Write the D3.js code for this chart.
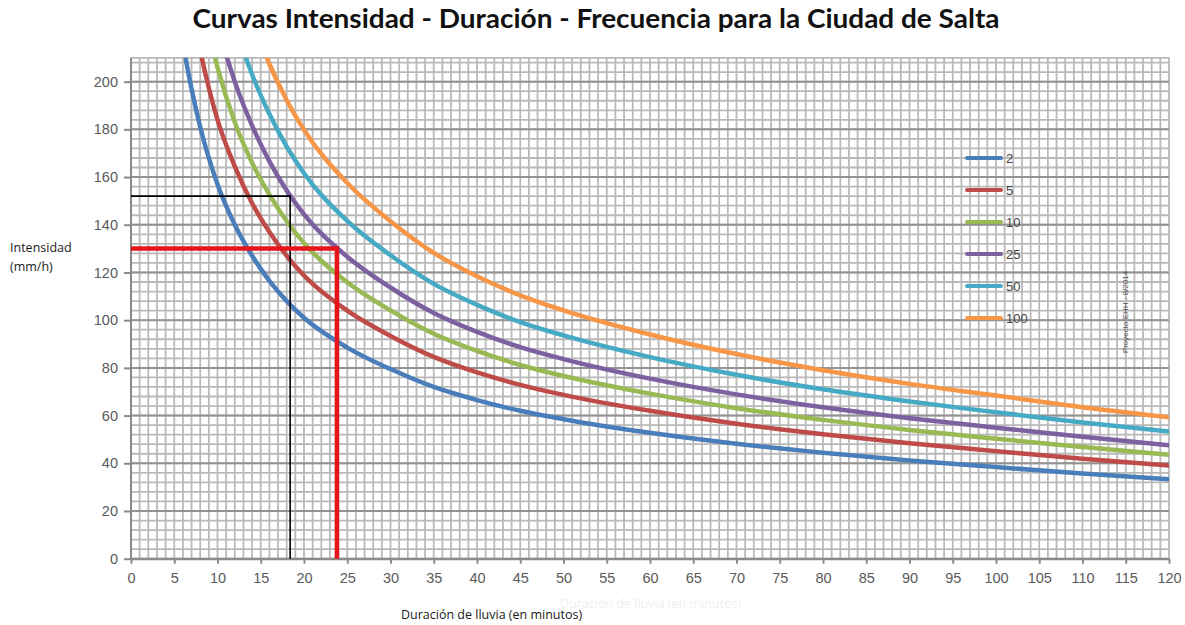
<!DOCTYPE html>
<html>
<head>
<meta charset="utf-8">
<script src="https://cdn.jsdelivr.net/npm/d3@7"></script>
<style>
  body { margin: 0; background: #fff; }
  svg { display: block; }
</style>
</head>
<body>
<svg id="chart" width="1185" height="625"></svg>
<script>
// Rainfall duration (minutes) at which intensities are tabulated
const durations = [5, 6, 7, 8, 10, 12, 14, 16, 18, 20, 25, 30, 35, 40, 45, 50, 60, 70, 80, 90, 100, 110, 120];

// Return periods (years)
const returnPeriods = ["2", "5", "10", "25", "50", "100"];

// Intensity (mm/h) for each return period
const intensityT2   = [248, 217, 197, 181, 157, 140, 127, 116.5, 108, 101, 88.5, 79.5, 72, 66.5, 62, 58.5, 52.8, 48.2, 44.4, 41.2, 38.4, 35.7, 33.3];
const intensityT5   = [291, 255, 231, 213, 184, 164.5, 149, 137, 127, 118.7, 104, 93.4, 84.6, 78.1, 72.9, 68.7, 62, 56.6, 52.2, 48.4, 45.1, 41.9, 39.1];
const intensityT10  = [325, 284, 258, 237, 206, 183, 166, 152.6, 141.5, 132.3, 115.9, 104.1, 94.3, 87.1, 81.2, 76.6, 69.2, 63.1, 58.2, 54, 50.3, 46.8, 43.6];
const intensityT25  = [355, 310, 282, 259, 224.5, 200, 181.6, 166.6, 154.4, 144.4, 126.6, 113.7, 103, 95.1, 88.7, 83.7, 75.5, 68.9, 63.5, 58.9, 54.9, 51.1, 47.6];
const intensityT50  = [397, 347, 315, 290, 251, 224, 203, 186.4, 172.8, 161.6, 141.6, 127.2, 115.2, 106.4, 99.2, 93.6, 84.5, 77.1, 71, 65.9, 61.4, 57.1, 53.3];
const intensityT100 = [441, 386, 351, 322, 279, 249, 226, 207.4, 192.2, 179.8, 157.5, 141.5, 128.2, 118.4, 110.4, 104.1, 94, 85.8, 79, 73.3, 68.4, 63.5, 59.3];

const seriesValues = [intensityT2, intensityT5, intensityT10, intensityT25, intensityT50, intensityT100];
const seriesColors = ["#4a7ebb", "#be4b48", "#98b954", "#7d60a0", "#46aac5", "#f79646"];

// Axis ticks
const xTicks = d3.range(0, 121, 5);
const yTicks = d3.range(0, 201, 20);

// Reading guides: [duration, intensity]
const guideBlack = [18.4, 152];
const guideRed = [23.8, 130];

const svg = d3.select("#chart");

const x = d3.scaleLinear().domain([0, 120]).range([131, 1169]);
const y = d3.scaleLinear().domain([0, 210]).range([558.7, 57.8]);

// Title
svg.append("text")
  .attr("x", 596).attr("y", 28)
  .attr("text-anchor", "middle")
  .attr("font-family", "Lato, 'Open Sans', sans-serif")
  .attr("font-weight", "bold")
  .attr("font-size", 27)
  .attr("fill", "#111")
  .attr("textLength", 807)
  .attr("lengthAdjust", "spacingAndGlyphs")
  .text("Curvas Intensidad - Duración - Frecuencia para la Ciudad de Salta");

// Clip region for the plot area
svg.append("defs").append("clipPath").attr("id", "plotClip")
  .append("rect")
  .attr("x", x(0)).attr("y", y(210))
  .attr("width", x(120) - x(0)).attr("height", y(0) - y(210));

// Grid
const grid = svg.append("g");
grid.selectAll("line.vminor")
  .data(d3.range(0, 121, 1))
  .join("line")
  .attr("x1", d => x(d)).attr("x2", d => x(d))
  .attr("y1", y(210)).attr("y2", y(0))
  .attr("stroke", "#b9b9b9").attr("stroke-width", 1.8);
grid.selectAll("line.hminor")
  .data(d3.range(0, 211, 4).concat([210]))
  .join("line")
  .attr("x1", x(0)).attr("x2", x(120))
  .attr("y1", d => y(d)).attr("y2", d => y(d))
  .attr("stroke", "#b9b9b9").attr("stroke-width", 1.8);
grid.selectAll("line.hmajor")
  .data(yTicks)
  .join("line")
  .attr("x1", x(0)).attr("x2", x(120))
  .attr("y1", d => y(d)).attr("y2", d => y(d))
  .attr("stroke", "#939393").attr("stroke-width", 2);

// Axes
const tickFont = "'Liberation Sans', Arial, sans-serif";
const yAxis = svg.append("g")
  .attr("transform", `translate(${x(0)},0)`)
  .call(d3.axisLeft(y).tickValues(yTicks).tickSize(7).tickPadding(6).tickSizeOuter(0));
const xAxis = svg.append("g")
  .attr("transform", `translate(0,${y(0)})`)
  .call(d3.axisBottom(x).tickValues(xTicks).tickSize(5).tickPadding(9).tickSizeOuter(0));
[yAxis, xAxis].forEach(ax => {
  ax.select(".domain").attr("stroke", "#8a8a8a").attr("stroke-width", 2);
  ax.selectAll(".tick line").attr("stroke", "#8a8a8a").attr("stroke-width", 2);
  ax.selectAll(".tick text")
    .attr("font-family", tickFont)
    .attr("font-size", 14.5)
    .attr("fill", "#5a5a5a");
});
yAxis.select(".domain").attr("d", `M0,${y(210)}V${y(0)}`);

// Curves
const line = d3.line()
  .x((d, i) => x(durations[i]))
  .y(d => y(d))
  .curve(d3.curveMonotoneX);
svg.append("g").attr("clip-path", "url(#plotClip)")
  .selectAll("path")
  .data(seriesValues)
  .join("path")
  .attr("d", line)
  .attr("fill", "none")
  .attr("stroke", (d, i) => seriesColors[i])
  .attr("stroke-width", 4.5)
  .attr("stroke-linecap", "round");

// Legend
const legend = svg.append("g");
const legendY = d3.scaleBand().domain(returnPeriods).range([142, 334]);
returnPeriods.forEach((rp, i) => {
  const cy = legendY(rp) + legendY.bandwidth() / 2;
  legend.append("line")
    .attr("x1", 967).attr("x2", 1001)
    .attr("y1", cy).attr("y2", cy)
    .attr("stroke", seriesColors[i]).attr("stroke-width", 4)
    .attr("stroke-linecap", "round");
  legend.append("text")
    .attr("x", 1006).attr("y", cy + 4.5)
    .attr("font-family", tickFont)
    .attr("font-size", 13)
    .attr("fill", "#444")
    .text(rp);
});

// Small vertical credit
svg.append("text")
  .attr("transform", `translate(1128,312) rotate(-90)`)
  .attr("text-anchor", "middle")
  .attr("font-family", tickFont)
  .attr("font-size", 8)
  .attr("fill", "#555")
  .text("Proyecto EHH - 8/2014");

// Reading guides
svg.append("path")
  .attr("d", `M${x(0)},${y(guideBlack[1])}H${x(guideBlack[0])}V${y(0)}`)
  .attr("fill", "none").attr("stroke", "#000").attr("stroke-width", 1.6);
svg.append("path")
  .attr("d", `M${x(0)},${y(guideRed[1])}H${x(guideRed[0])}V${y(0)}`)
  .attr("fill", "none").attr("stroke", "#e8141b").attr("stroke-width", 4.5)
  .attr("stroke-linejoin", "miter");

// Axis titles
const labelFont = "'Open Sans', 'Noto Sans', sans-serif";
svg.append("text")
  .attr("x", 10).attr("y", 252)
  .attr("font-family", labelFont).attr("font-size", 12.5).attr("fill", "#1a1a1a")
  .text("Intensidad");
svg.append("text")
  .attr("x", 10).attr("y", 271)
  .attr("font-family", labelFont).attr("font-size", 12.5).attr("fill", "#1a1a1a")
  .text("(mm/h)");
svg.append("text")
  .attr("x", 560).attr("y", 608)
  .attr("font-family", labelFont).attr("font-size", 12.5).attr("fill", "#efefef")
  .text("Duración de lluvia (en minutos)");
svg.append("text")
  .attr("x", 401).attr("y", 619)
  .attr("font-family", labelFont).attr("font-size", 12.5).attr("fill", "#1a1a1a")
  .text("Duración de lluvia (en minutos)");
</script>
</body>
</html>
